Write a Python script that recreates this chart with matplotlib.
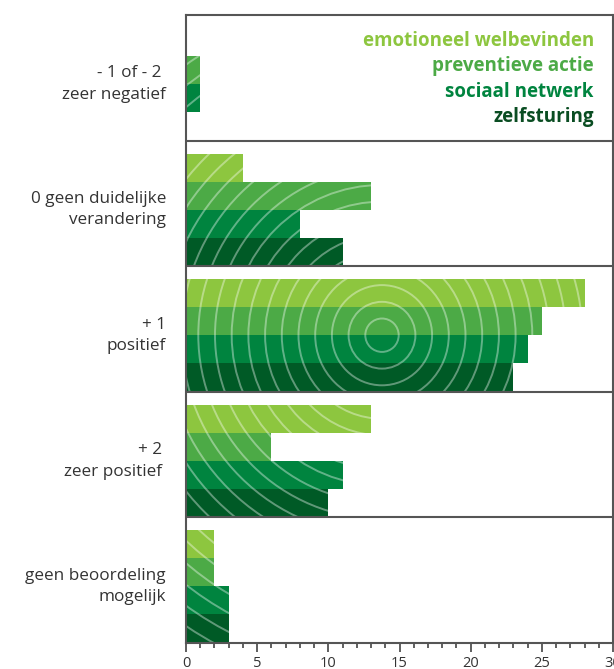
import matplotlib
matplotlib.use("Agg")
import matplotlib.pyplot as plt
import numpy as np
from matplotlib.path import Path
from matplotlib.patches import PathPatch
from matplotlib.transforms import IdentityTransform
from matplotlib.ticker import MultipleLocator

plt.rcParams['font.family'] = ['Open Sans', 'DejaVu Sans']

categories = ["- 1 of - 2 \nzeer negatief",
              "0 geen duidelijke\nverandering",
              "+ 1\npositief",
              "+ 2 \nzeer positief ",
              "geen beoordeling\nmogelijk"]
series = ["emotioneel welbevinden", "preventieve actie", "sociaal netwerk", "zelfsturing"]
emotioneel = [0, 4, 28, 13, 2]
preventieve = [1, 13, 25, 6, 2]
sociaal = [1, 8, 24, 11, 3]
zelfsturing = [0, 11, 23, 10, 3]
values = [emotioneel, preventieve, sociaal, zelfsturing]
bar_colors = ["#8dc63f", "#4caa46", "#00843f", "#005a26"]
text_colors = ["#8dc63f", "#4caa46", "#00843f", "#0a4d22"]
xticks = [0, 5, 10, 15, 20, 25, 30]

W, H = 614, 669
fig = plt.figure(figsize=(W / 100, H / 100), dpi=100)
ax = fig.add_axes([186 / W, 1 - 643 / H, (613 - 186) / W, (643 - 15) / H])
ax.set_xlim(0, 30)
ax.set_ylim(5, 0)

gap = 0.1035
bh = 0.223
bars = []
for j, vals in enumerate(values):
    ys = [i + gap + bh * (j + 0.5) for i in range(len(categories))]
    bc = ax.barh(ys, vals, height=bh, color=bar_colors[j], edgecolor='none', zorder=2)
    bars.extend(bc.patches)

for yb in [1, 2, 3, 4]:
    ax.axhline(yb, color="#555555", lw=1.5, zorder=4)

for i, cat in enumerate(categories):
    ax.text(-1.4, i + gap + 2 * bh, cat, ha='right', va='center', fontsize=12.3,
            color="#333333", linespacing=1.45)

for j, (s, c) in enumerate(zip(series, text_colors)):
    ax.text(0.955, 1 - (41 - 15 + 25.3 * j) / 628, s, transform=ax.transAxes,
            ha='right', va='center', fontsize=13.5, fontweight='bold', color=c)

ax.xaxis.set_major_locator(MultipleLocator(5))
ax.xaxis.set_minor_locator(MultipleLocator(1))
ax.set_xticks(xticks)
ax.set_yticks([])
ax.tick_params(axis='x', which='major', length=6.5, width=1.2, color="#444444",
               labelsize=10.5, labelcolor="#333333", pad=3)
ax.tick_params(axis='x', which='minor', length=3.6, width=1.2, color="#444444")
for sp in ax.spines.values():
    sp.set_color("#555555")
    sp.set_linewidth(1.5)
    sp.set_zorder(5)

# decorative concentric rings clipped to the bars
fig.canvas.draw()
cx, cy = ax.transData.transform((13.77, 2 + gap + 2 * bh))
circles = [Path.circle((cx, cy), 16.7 * k) for k in range(1, 30)]
ring_path = Path.make_compound_path(*circles)
rings = PathPatch(ring_path, transform=IdentityTransform(), facecolor='none',
                  edgecolor='white', alpha=0.38, lw=1.4, zorder=3)
ax.add_artist(rings)
clip = Path.make_compound_path(*[p.get_path().transformed(p.get_patch_transform()) for p in bars])
rings.set_clip_path(clip, ax.transData)

fig.savefig("out.png", dpi=100)
